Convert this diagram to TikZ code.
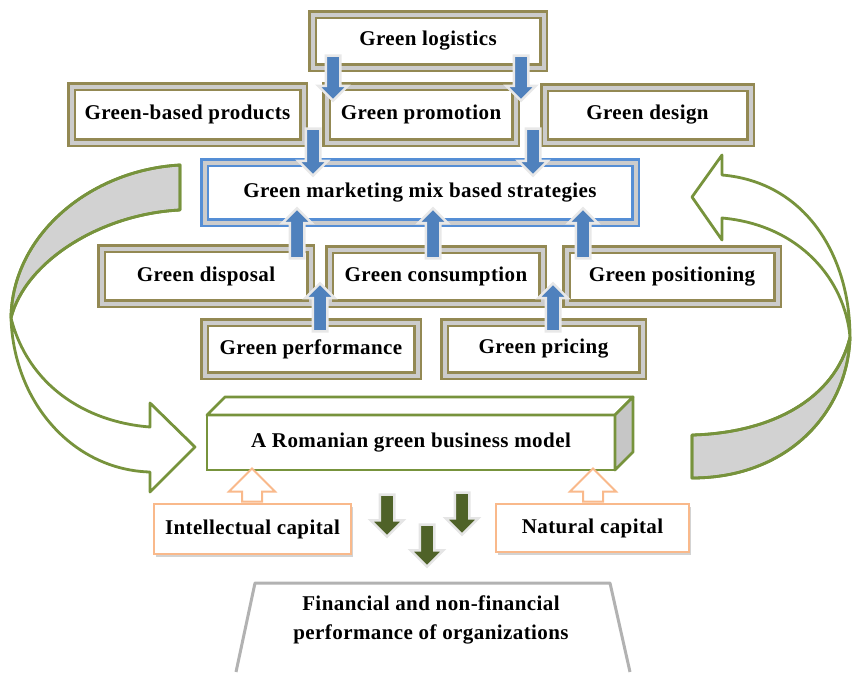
\documentclass[tikz,border=0pt]{standalone}
\usepackage{fontspec}
\setmainfont{Liberation Serif}[LetterSpace=2]
\usetikzlibrary{shapes.arrows,shadows}
\definecolor{khaki}{HTML}{938953}
\definecolor{boxblue}{HTML}{558ED5}
\definecolor{arrblue}{HTML}{4F81BD}
\definecolor{olive}{HTML}{77933C}
\definecolor{darkolive}{HTML}{4F6228}
\definecolor{peach}{HTML}{F9B98B}
\tikzstyle{lab}=[font=\bfseries\fontsize{21}{25}\selectfont]
\tikzstyle{frame}=[lab, draw=khaki, line width=2.6pt, double=gray!40, double distance=4pt, fill=white, inner sep=0pt]
\tikzstyle{bframe}=[frame, draw=boxblue]
\tikzstyle{capbox}=[lab, draw=peach, line width=2.2pt, fill=white, inner sep=0pt, drop shadow={opacity=0.35, shadow xshift=2pt, shadow yshift=-2.5pt}]
\tikzstyle{barrow}=[single arrow, draw=gray!18, line width=2.5pt, fill=arrblue, inner sep=6pt, single arrow head extend=7.5pt]
\tikzstyle{garrow}=[single arrow, draw=gray!20, line width=2.5pt, fill=darkolive, inner sep=6pt, single arrow head extend=9pt, shape border rotate=270, minimum height=42pt]
\tikzstyle{oarrow}=[single arrow, draw=peach, line width=2pt, fill=white, inner sep=9pt, single arrow head extend=13pt, shape border rotate=90, minimum height=33pt]
\tikzstyle{loopline}=[draw=olive, line width=2.8pt, line join=round]

\begin{document}
\begin{tikzpicture}[x=1pt,y=-1pt]
\useasboundingbox (0,0) rectangle (854,672);

% loop arrows on both sides
\fill[loopline, fill=gray!35] (180,165) .. controls (90,170) and (12,235) .. (11,318) .. controls (25,262) and (100,214) .. (180,210) -- cycle;
\fill[loopline, fill=white] (11,318) .. controls (14,405) and (75,470) .. (150,472) -- (150,492) -- (195,447) -- (150,403) -- (150,427) .. controls (85,422) and (28,385) .. (11,318) -- cycle;
\draw[loopline] (180,165) .. controls (90,170) and (12,235) .. (11,318) .. controls (25,262) and (100,214) .. (180,210) -- cycle;
\fill[loopline, fill=gray!35] (850,337) .. controls (848,410) and (790,478) .. (692,478) -- (692,435) .. controls (770,433) and (835,400) .. (850,337) -- cycle;
\fill[loopline, fill=white] (850,337) .. controls (845,280) and (800,225) .. (722,218) -- (722,240) -- (692,197) -- (722,155) -- (722,175) .. controls (805,182) and (850,255) .. (850,337) -- cycle;
\draw[loopline] (850,337) .. controls (848,410) and (790,478) .. (692,478) -- (692,435) .. controls (770,433) and (835,400) .. (850,337) -- cycle;

% mix elements
\node[frame, minimum width=231pt, minimum height=53pt] (logi) at (428,41) {Green logistics};
\node[frame, minimum width=232pt, minimum height=56pt] (prod) at (187.5,114.5) {Green-based products};
\node[frame, minimum width=189pt, minimum height=56pt] (promo) at (421,114.5) {Green promotion};
\node[frame, minimum width=206pt, minimum height=55pt] (design) at (647.5,115) {Green design};
\node[bframe, minimum width=431pt, minimum height=60pt] (mix) at (420,192.5) {Green marketing mix based strategies};
\node[frame, minimum width=209pt, minimum height=55pt] (disp) at (206,276) {Green disposal};
\node[frame, minimum width=213pt, minimum height=54pt] (cons) at (436,276.5) {Green consumption};
\node[frame, minimum width=211pt, minimum height=54pt] (posi) at (672,276.5) {Green positioning};
\node[frame, minimum width=213pt, minimum height=53pt] (perf) at (311,349) {Green performance};
\node[frame, minimum width=198pt, minimum height=53pt] (pric) at (543.5,349) {Green pricing};

% blue arrows
\node[barrow, shape border rotate=270, minimum height=45pt] (a1) at (333,74.5) {};
\node[barrow, shape border rotate=270, minimum height=45pt] (a2) at (521,74.5) {};
\node[barrow, shape border rotate=270, minimum height=47pt] (a3) at (313,148.5) {};
\node[barrow, shape border rotate=270, minimum height=47pt] (a4) at (533,148.5) {};
\node[barrow, shape border rotate=90, minimum height=50pt] (a5) at (297,237) {};
\node[barrow, shape border rotate=90, minimum height=50pt] (a6) at (433,237) {};
\node[barrow, shape border rotate=90, minimum height=50pt] (a7) at (583,237) {};
\node[barrow, shape border rotate=90, minimum height=48pt] (a8) at (320,311) {};
\node[barrow, shape border rotate=90, minimum height=48pt] (a9) at (553,311) {};

% business model block
\node[lab, draw=olive, line width=2.8pt, fill=white, inner sep=0pt, outer sep=0pt, minimum width=408pt, minimum height=55pt] (model) at (411,442.5) {A Romanian green business model};
\draw[draw=olive, line width=2.8pt, line join=round, fill=white] (model.north west) -- ++(18,-18) -- ++(408,0) -- (model.north east) -- cycle;
\draw[draw=olive, line width=2.8pt, line join=round, fill=gray!45] (model.north east) -- ++(18,-18) -- ++(0,55) -- (model.south east) -- cycle;

% capitals
\node[oarrow] (o1) at (252,490) {};
\node[oarrow] (o2) at (593,490) {};
\node[capbox, minimum width=197pt, minimum height=50pt] (intel) at (252.5,529) {Intellectual capital};
\node[capbox, minimum width=193pt, minimum height=48pt] (natur) at (592.5,528) {Natural capital};

% outcome
\node[garrow] (g1) at (387,512) {};
\node[garrow] (g2) at (462,510) {};
\node[garrow] (g3) at (427,542) {};
\draw[draw=gray!60, line width=3pt, line join=round, fill=white] (236,672) -- (255,583) -- (610,583) -- (630,672);
\node[lab, align=center, font=\bfseries\fontsize{21}{29}\selectfont] (fin) at (431,620) {Financial and non-financial\\performance of organizations};
\end{tikzpicture}
\end{document}
